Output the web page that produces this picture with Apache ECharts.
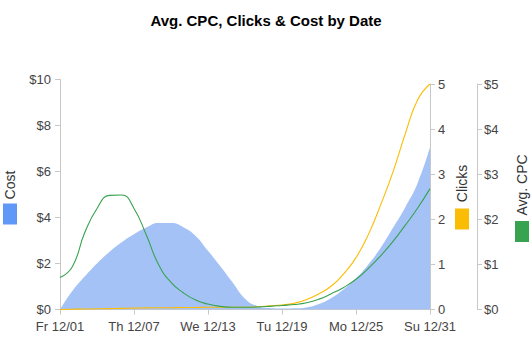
<!DOCTYPE html>
<html>
<head>
<meta charset="utf-8">
<script src="https://cdn.jsdelivr.net/npm/echarts@6/dist/echarts.min.js"></script>
<style>
html,body{margin:0;padding:0;background:#fff;}
#chart{width:532px;height:355px;}
</style>
</head>
<body>
<div id="chart"></div>
<script>
var titleText = 'Avg. CPC, Clicks & Cost by Date';
var dates = ['Fr 12/01','Sa 12/02','Su 12/03','Mo 12/04','Tu 12/05','We 12/06','Th 12/07','Fr 12/08','Sa 12/09','Su 12/10',
  'Mo 12/11','Tu 12/12','We 12/13','Th 12/14','Fr 12/15','Sa 12/16','Su 12/17','Mo 12/18','Tu 12/19','We 12/20',
  'Th 12/21','Fr 12/22','Sa 12/23','Su 12/24','Mo 12/25','Tu 12/26','We 12/27','Th 12/28','Fr 12/29','Sa 12/30','Su 12/31'];
var cost = [0, 0.80, 1.43, 2.00, 2.50, 2.92, 3.27, 3.56, 3.76, 3.76,
  3.58, 3.20, 2.55, 1.88, 1.17, 0.47, 0.15, 0.06, 0.04, 0.05,
  0.09, 0.24, 0.50, 0.88, 1.36, 1.96, 2.68, 3.55, 4.45, 5.50, 7.05];
var clicks = [0, 0.005, 0.01, 0.015, 0.02, 0.025, 0.03, 0.035, 0.04, 0.04,
  0.045, 0.045, 0.05, 0.05, 0.05, 0.05, 0.06, 0.08, 0.10, 0.14,
  0.22, 0.35, 0.52, 0.79, 1.15, 1.66, 2.32, 3.05, 3.90, 4.65, 5.0];
var avgCpc = [0.71, 0.95, 1.70, 2.24, 2.53, 2.54, 2.24, 1.65, 0.99, 0.60,
  0.37, 0.21, 0.12, 0.07, 0.05, 0.05, 0.055, 0.07, 0.09, 0.11,
  0.15, 0.23, 0.35, 0.49, 0.67, 0.91, 1.19, 1.51, 1.87, 2.25, 2.68];
var costTicks = {min: 0, max: 10, interval: 2};
var clickTicks = {min: 0, max: 5, interval: 1};
var cpcTicks = {min: 0, max: 5, interval: 1};
var legendNames = ['Cost', 'Clicks', 'Avg. CPC'];

var FONT = "'Liberation Sans', Arial, sans-serif";
var C_COST_AREA = '#a4c2f6';
var C_COST = '#5f98f6';
var C_CLICKS = '#fbbc04';
var C_CPC = '#37a24f';
var LABEL = {color: '#444', fontSize: 13, fontFamily: FONT};
var AXLINE = {lineStyle: {color: '#c8c8c8', width: 1}};

var chart = echarts.init(document.getElementById('chart'), null, {renderer: 'svg'});

function legendItem(name, color, cx, textCy, rectX, rectY) {
  return [
    {type: 'text', x: cx, y: textCy, rotation: Math.PI / 2,
     style: {text: name, fill: '#333', font: '14px ' + FONT, align: 'center', verticalAlign: 'middle'}},
    {type: 'rect', shape: {x: rectX, y: rectY, width: 14, height: 21}, style: {fill: color}}
  ];
}

var graphics = []
  .concat(legendItem(legendNames[0], C_COST, 10, 185, 3, 203.5))
  .concat(legendItem(legendNames[1], C_CLICKS, 462, 183.5, 455, 208.5))
  .concat(legendItem(legendNames[2], C_CPC, 521.5, 185, 515, 221));

var option = {
  animation: false,
  backgroundColor: '#fff',
  title: {
    text: titleText, left: 'center', top: 8,
    textStyle: {fontSize: 15, fontWeight: 'bold', color: '#000', fontFamily: FONT}
  },
  graphic: graphics,
  grid: [
    {left: 60, top: 79.5, width: 370, height: 230},
    {left: 60, top: 84, width: 370, height: 225.5}
  ],
  xAxis: [
    {type: 'category', gridIndex: 0, data: dates, boundaryGap: false,
     axisLine: AXLINE,
     axisTick: {show: true, interval: 5, length: 5, lineStyle: {color: '#c8c8c8'}},
     axisLabel: Object.assign({interval: 5, margin: 10}, LABEL),
     splitLine: {show: false}},
    {type: 'category', gridIndex: 1, data: dates, boundaryGap: false, show: false}
  ],
  yAxis: [
    {type: 'value', gridIndex: 0, position: 'left', min: costTicks.min, max: costTicks.max, interval: costTicks.interval,
     axisLine: Object.assign({show: true}, AXLINE),
     axisTick: {show: true, length: 5, lineStyle: {color: '#c8c8c8'}},
     axisLabel: Object.assign({margin: 9, formatter: function (v) { return '$' + v; }}, LABEL),
     splitLine: {show: false}},
    {type: 'value', gridIndex: 1, position: 'right', min: clickTicks.min, max: clickTicks.max, interval: clickTicks.interval,
     axisLine: Object.assign({show: true}, AXLINE),
     axisTick: {show: true, length: 5, lineStyle: {color: '#c8c8c8'}},
     axisLabel: Object.assign({margin: 8}, LABEL),
     splitLine: {show: false}},
    {type: 'value', gridIndex: 1, position: 'right', offset: 47, min: cpcTicks.min, max: cpcTicks.max, interval: cpcTicks.interval,
     axisLine: Object.assign({show: true}, AXLINE),
     axisTick: {show: true, length: 5, lineStyle: {color: '#c8c8c8'}},
     axisLabel: Object.assign({margin: 7, formatter: function (v) { return '$' + v; }}, LABEL),
     splitLine: {show: false}}
  ],
  series: [
    {name: legendNames[0], type: 'line', xAxisIndex: 0, yAxisIndex: 0, data: cost, smooth: true,
     showSymbol: false, lineStyle: {width: 0}, itemStyle: {color: C_COST},
     areaStyle: {color: C_COST_AREA, opacity: 1}, z: 1},
    {name: legendNames[1], type: 'line', xAxisIndex: 1, yAxisIndex: 1, data: clicks, smooth: true,
     showSymbol: false, lineStyle: {width: 1.1, color: C_CLICKS}, itemStyle: {color: C_CLICKS}, z: 2},
    {name: legendNames[2], type: 'line', xAxisIndex: 1, yAxisIndex: 2, data: avgCpc, smooth: true,
     showSymbol: false, lineStyle: {width: 1.1, color: C_CPC}, itemStyle: {color: C_CPC}, z: 3}
  ]
};
chart.setOption(option);
</script>
</body>
</html>
